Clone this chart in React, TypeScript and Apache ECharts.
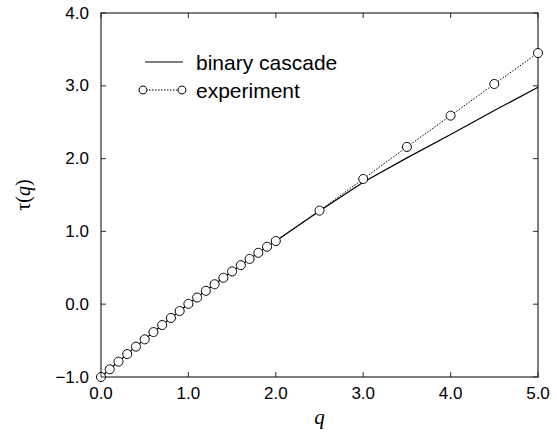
import React, { useEffect, useRef } from "react";
import * as echarts from "echarts";

const qSmall = [0.0, 0.1, 0.2, 0.3, 0.4, 0.5, 0.6, 0.7, 0.8, 0.9, 1.0, 1.1, 1.2, 1.3, 1.4, 1.5, 1.6, 1.7, 1.8, 1.9, 2.0];
const tauSmall = [-1.0, -0.894, -0.789, -0.685, -0.583, -0.483, -0.383, -0.286, -0.189, -0.094, 0.005, 0.092, 0.184, 0.274, 0.363, 0.45, 0.536, 0.622, 0.706, 0.789, 0.868];

const qCascadeHigh = [2.5, 3.0, 3.5, 4.0, 4.5, 5.0];
const tauCascadeHigh = [1.28, 1.675, 2.01, 2.33, 2.66, 2.98];

const qExpHigh = [2.5, 3.0, 3.5, 4.0, 4.5, 5.0];
const tauExpHigh = [1.285, 1.72, 2.16, 2.59, 3.025, 3.45];

const xTicks = [0, 1, 2, 3, 4, 5];
const yTicks = [-1, 0, 1, 2, 3, 4];
const xRange = [0, 5];
const yRange = [-1, 4];

const seriesNames = ["binary cascade", "experiment"];

function fmt(v: number) {
  return v < 0 ? "\u2212" + Math.abs(v).toFixed(1) : v.toFixed(1);
}

const mkLabel = (margin: number) => ({
  show: true,
  fontFamily: "Liberation Sans, Arial, sans-serif",
  fontSize: 17,
  color: "#000",
  margin,
  formatter: (v: number) => fmt(v),
});

const tickSeries = (data: number[][], size: number[], offset: number[]) => ({
  type: "scatter",
  data,
  symbol: "rect",
  symbolSize: size,
  symbolOffset: offset,
  itemStyle: { color: "#222" },
  silent: true,
  clip: false,
  z: 4,
});

export default function App() {
  const ref = useRef<HTMLDivElement>(null);
  useEffect(() => {
    document.body.style.margin = "0";
    const chart = echarts.init(ref.current!, undefined, { renderer: "svg" });
    const cascade = qSmall.map((q, i) => [q, tauSmall[i]]).concat(qCascadeHigh.map((q, i) => [q, tauCascadeHigh[i]]));
    const experiment = qSmall.map((q, i) => [q, tauSmall[i]]).concat(qExpHigh.map((q, i) => [q, tauExpHigh[i]]));
    chart.setOption({
      animation: false,
      backgroundColor: "#fff",
      grid: { left: 101, right: 19, top: 13, bottom: 57, show: true, borderColor: "#555", borderWidth: 1.5, backgroundColor: "transparent" },
      xAxis: {
        type: "value",
        min: xRange[0],
        max: xRange[1],
        interval: 1,
        axisLine: { show: false, onZero: false },
        axisTick: { show: false },
        splitLine: { show: false },
        axisLabel: mkLabel(8),
        name: "q",
        nameLocation: "middle",
        nameGap: 27,
        nameTextStyle: { fontFamily: "Liberation Serif, Times New Roman, serif", fontStyle: "italic", fontSize: 21, color: "#000" },
      },
      yAxis: {
        type: "value",
        min: yRange[0],
        max: yRange[1],
        interval: 1,
        axisLine: { show: false, onZero: false },
        axisTick: { show: false },
        splitLine: { show: false },
        axisLabel: mkLabel(12),
        name: "{a|\u03c4(}{b|q}{a|)}",
        nameLocation: "middle",
        nameGap: 68,
        nameRotate: 90,
        nameTextStyle: {
          rich: {
            a: { fontFamily: "Liberation Serif, Times New Roman, serif", fontSize: 20, color: "#000" },
            b: { fontFamily: "Liberation Serif, Times New Roman, serif", fontSize: 20, fontStyle: "italic", color: "#000" },
          },
        },
      },
      series: [
        {
          name: seriesNames[0],
          type: "line",
          data: cascade,
          showSymbol: false,
          symbol: "none",
          lineStyle: { color: "#000", width: 1.2 },
          z: 2,
        },
        {
          name: seriesNames[1],
          type: "line",
          data: experiment,
          symbol: "circle",
          symbolSize: 9,
          itemStyle: { color: "#fff", borderColor: "#000", borderWidth: 1 },
          lineStyle: { color: "#000", width: 1, type: [1.5, 1.5] },
          z: 3,
        },
        tickSeries(xTicks.map((v) => [v, yRange[0]]), [1.2, 5], [0, -2.5]),
        tickSeries(xTicks.map((v) => [v, yRange[1]]), [1.2, 5], [0, 2.5]),
        tickSeries(yTicks.map((v) => [xRange[0], v]), [5, 1.2], [2.5, 0]),
        tickSeries(yTicks.map((v) => [xRange[1], v]), [5, 1.2], [-2.5, 0]),
      ],
      graphic: [
        { type: "line", shape: { x1: 145, y1: 62, x2: 183, y2: 62 }, style: { stroke: "#000", lineWidth: 1.2 } },
        { type: "line", shape: { x1: 143, y1: 90, x2: 182, y2: 90 }, style: { stroke: "#000", lineWidth: 1, lineDash: [1.5, 1.5] } },
        { type: "circle", shape: { cx: 143, cy: 90, r: 4 }, style: { fill: "#fff", stroke: "#000", lineWidth: 1 } },
        { type: "circle", shape: { cx: 182, cy: 90, r: 4 }, style: { fill: "#fff", stroke: "#000", lineWidth: 1 } },
        {
          type: "text",
          x: 196,
          y: 62,
          style: { text: seriesNames[0], fontFamily: "Liberation Sans, Arial, sans-serif", fontSize: 21, fill: "#000", verticalAlign: "middle" },
        },
        {
          type: "text",
          x: 196,
          y: 90,
          style: { text: seriesNames[1], fontFamily: "Liberation Sans, Arial, sans-serif", fontSize: 21, fill: "#000", verticalAlign: "middle" },
        },
      ],
    });
    return () => chart.dispose();
  }, []);
  return <div ref={ref} style={{ width: 557, height: 434 }} />;
}
